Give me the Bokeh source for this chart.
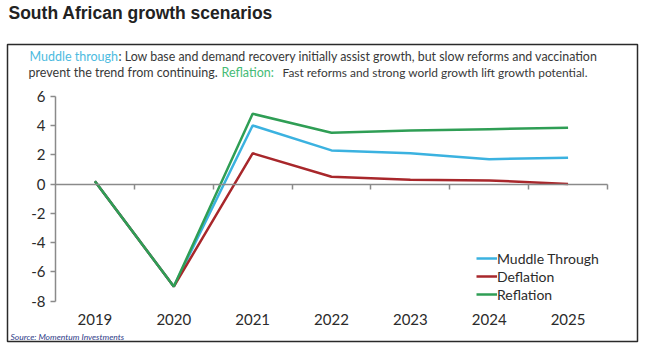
from bokeh.plotting import figure
from bokeh.models import (Range1d, FixedTicker, LinearAxis, Label, BoxAnnotation,
                          Legend, LegendItem)
from bokeh.embed import file_html
from bokeh.resources import INLINE

# ---- data ----
years = ["2019", "2020", "2021", "2022", "2023", "2024", "2025"]
muddle_through = [0.2, -7.0, 4.0, 2.3, 2.1, 1.7, 1.8]
deflation = [0.2, -7.0, 2.1, 0.5, 0.3, 0.25, 0.0]
reflation = [0.2, -7.0, 4.8, 3.5, 3.65, 3.75, 3.85]
y_ticks = [-8, -6, -4, -2, 0, 2, 4, 6]
y_tick_labels = ["-8", "-6", "-4", "-2", "0", "2", "4", "6"]

# ---- layout (pixels on the 646x352 canvas) ----
W, H = 646, 352
AX_L, AX_R = 55.0, 607.0      # plot area left/right
AX_T, AX_B = 95.7, 300.7      # plot area top (y=6) / bottom (y=-8)
YMIN, YMAX = -8, 6
XMIN, XMAX = -0.5, len(years) - 0.5

ppx = (AX_R - AX_L) / (XMAX - XMIN)
ppy = (AX_B - AX_T) / (YMAX - YMIN)
x_start = XMIN - AX_L / ppx
x_end = XMAX + (W - AX_R) / ppx
y_end = YMAX + AX_T / ppy
y_start = YMIN - (H - AX_B) / ppy

BLUE = "#3bb2e0"
RED = "#a8272b"
GREEN = "#2f9e55"
TXT = "#2b2b2b"
NOTE = "#383838"
AX = "#8a8a8a"
FONT = "Lato"

xs = list(range(len(years)))

p = figure(width=W, height=H, output_backend="svg", toolbar_location=None,
           x_range=Range1d(x_start, x_end), y_range=Range1d(y_start, y_end),
           x_axis_location=None, y_axis_location=None,
           min_border=0)
p.outline_line_color = None
p.grid.visible = False
p.background_fill_color = "white"
p.border_fill_color = "white"

# y axis
ya = LinearAxis(fixed_location=XMIN, bounds=(YMIN, YMAX),
                ticker=FixedTicker(ticks=y_ticks, minor_ticks=[]),
                major_label_overrides={t: l for t, l in zip(y_ticks, y_tick_labels)},
                axis_line_color=AX, axis_line_width=1.5,
                major_tick_line_color=AX, major_tick_line_width=1.5,
                major_tick_out=5, major_tick_in=0, minor_tick_line_color=None,
                major_label_text_font=FONT, major_label_text_font_size="15px",
                major_label_text_color=TXT, major_label_standoff=5)
p.add_layout(ya, "left")

# category labels
la = LinearAxis(fixed_location=YMIN, ticker=FixedTicker(ticks=xs, minor_ticks=[]),
                major_label_overrides={i: y for i, y in zip(xs, years)},
                axis_line_color=None, major_tick_line_color=None,
                minor_tick_line_color=None,
                major_label_text_font=FONT, major_label_text_font_size="15px",
                major_label_text_color=TXT, major_label_standoff=7)
p.add_layout(la, "below")

# zero axis with boundary ticks
bounds = [i + 0.5 for i in xs]
za = LinearAxis(fixed_location=0, bounds=(XMIN, XMAX),
                ticker=FixedTicker(ticks=bounds, minor_ticks=[]),
                major_label_overrides={b: "" for b in bounds},
                axis_line_color=AX, axis_line_width=1.5,
                major_tick_line_color=AX, major_tick_line_width=1.5,
                major_tick_out=5, major_tick_in=0, minor_tick_line_color=None)
p.add_layout(za, "below")

r1 = p.line(xs, muddle_through, line_color=BLUE, line_width=2.5)
r2 = p.line(xs, deflation, line_color=RED, line_width=2.5)
r3 = p.line(xs, reflation, line_color=GREEN, line_width=2.5)

legend = Legend(items=[LegendItem(label="Muddle Through", renderers=[r1]),
                       LegendItem(label="Deflation", renderers=[r2]),
                       LegendItem(label="Reflation", renderers=[r3])],
                location=(476, H - 303), orientation="vertical",
                border_line_color=None, background_fill_alpha=0,
                label_text_font=FONT, label_text_font_size="14px",
                label_text_color=TXT, glyph_width=21, glyph_height=18,
                label_height=18, label_standoff=0, spacing=0, padding=0, margin=0)
p.add_layout(legend, "center")


def lab(text, px, py, size, color, style="normal", font=FONT):
    p.add_layout(Label(x=px, y=H - py, x_units="screen", y_units="screen", text=text,
                       text_font=font, text_font_size=size, text_color=color,
                       text_font_style=style, text_baseline="middle", text_align="left"))


lab("South African growth scenarios", 8, 12, "17.5px", "#222222", "bold", "Liberation Sans")
lab("Muddle through", 29, 56, "12.5px", "#4dbbe0")
lab(": Low base and demand recovery initially assist growth, but slow reforms and vaccination",
    118, 56, "12.4px", NOTE)
lab("prevent the trend from continuing.", 28, 72, "12.5px", NOTE)
lab("Reflation:", 221, 72, "12.5px", "#45bb76")
lab("Fast reforms and strong world growth lift growth potential.", 282, 72, "11.9px", NOTE)
lab("Source: Momentum Investments", 10, 336, "8.5px", "#2e3a87", "italic")

p.add_layout(BoxAnnotation(left=7, right=637, top=H - 44, bottom=H - 341,
                           left_units="screen", right_units="screen",
                           top_units="screen", bottom_units="screen",
                           fill_alpha=0, line_color="#2a2a2a", line_alpha=1.0,
                           line_width=1.5))

open("out.html", "w").write(file_html(p, INLINE))
